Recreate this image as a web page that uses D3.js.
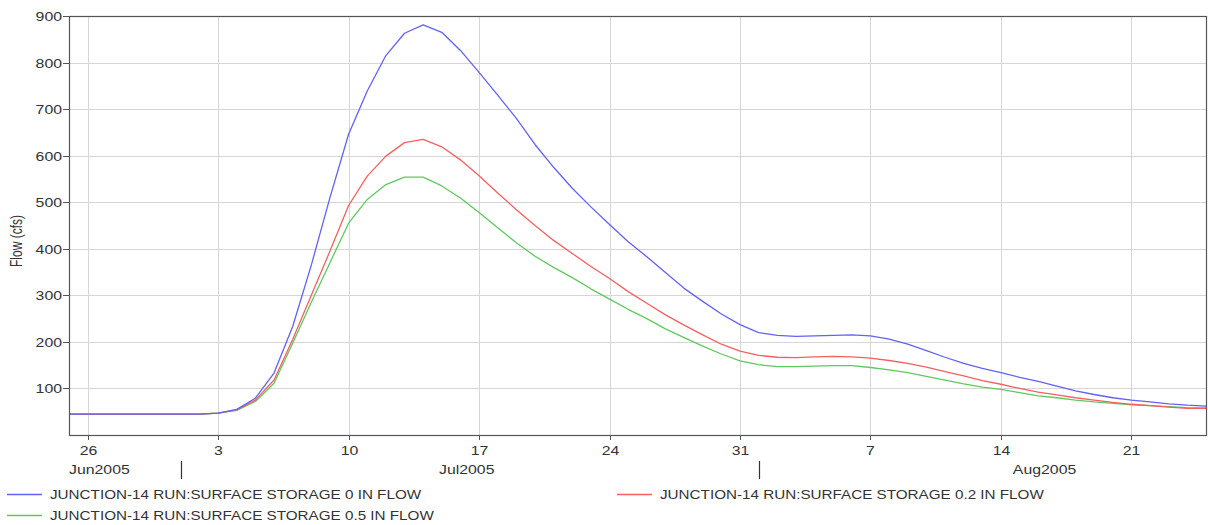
<!DOCTYPE html>
<html>
<head>
<meta charset="utf-8">
<script src="https://cdn.jsdelivr.net/npm/d3@7"></script>
<style>
  html, body { margin: 0; padding: 0; background: #fff; }
  svg { display: block; }
  text { font-family: "Liberation Sans", Arial, sans-serif; fill: #333; }
</style>
</head>
<body>
<svg id="chart" width="1208" height="525"></svg>
<script>
// Daily flow at JUNCTION-14, 25 Jun 2005 to 25 Aug 2005 (cfs)
const startDate = "2005-06-25";
const endDate = "2005-08-25";

const seriesNames = [
  "JUNCTION-14 RUN:SURFACE STORAGE 0 IN FLOW",
  "JUNCTION-14 RUN:SURFACE STORAGE 0.2 IN FLOW",
  "JUNCTION-14 RUN:SURFACE STORAGE 0.5 IN FLOW"
];
const seriesColors = ["#6262f4", "#f46060", "#60c860"];

const flowStorage0 = [
  45, 45, 45, 45, 45, 45, 45, 45,
  47, 55, 79, 133, 233, 365, 510, 646, 739, 815, 863, 881, 865, 826, 779, 730,
  680, 624, 575, 530, 490, 452, 415, 383, 349, 315, 287, 260, 237,
  220, 214, 212, 213, 214, 215, 213, 206, 195, 181, 167, 154, 143, 134, 124,
  115, 105, 95, 87, 80, 75, 71, 67, 64, 62
];
const flowStorage02 = [
  45, 45, 45, 45, 45, 45, 45, 45,
  47, 54, 75, 118, 205, 300, 395, 493, 556, 599, 628, 635, 619, 591, 557, 520,
  484, 450, 418, 390, 362, 336, 308, 283, 258, 236, 215, 195, 180,
  171, 167, 166, 168, 169, 168, 165, 160, 154, 146, 136, 127, 117, 109, 100,
  92, 86, 80, 75, 70, 66, 63, 60, 57, 57
];
const flowStorage05 = [
  45, 45, 45, 45, 45, 45, 45, 45,
  47, 53, 72, 111, 197, 285, 370, 455, 506, 538, 554, 554, 535, 509, 478, 445,
  413, 384, 360, 338, 314, 292, 270, 250, 228, 209, 191, 174, 159,
  151, 147, 147, 148, 149, 149, 145, 140, 134, 126, 118, 110, 103, 98, 91,
  84, 80, 75, 71, 68, 65, 63, 61, 59, 58
];

const yTickValues = [100, 200, 300, 400, 500, 600, 700, 800, 900];
const monthLabels = ["Jun2005", "Jul2005", "Aug2005"];
const yLabel = "Flow (cfs)";

// ---- layout ----
const W = 1208, H = 525;
const M = { left: 69, right: 1206, top: 16, bottom: 435 };
const SX = 1.32;                // horizontal text stretch for axis labels
const SX_LEGEND = 1.27;         // horizontal text stretch for legend entries
const FONT = 12;

const svg = d3.select("#chart");
svg.append("rect").attr("width", W).attr("height", H).attr("fill", "#fff");

const t0 = new Date(startDate + "T00:00:00Z");
const t1 = new Date(endDate + "T00:00:00Z");
const dates = d3.utcDay.range(t0, d3.utcDay.offset(t1, 1));

const x = d3.scaleUtc().domain([t0, t1]).range([M.left, M.right]);
const y = d3.scaleLinear().domain([0, 900]).range([M.bottom, M.top]);

const weekTicks = d3.utcSunday.range(t0, d3.utcDay.offset(t1, 1));

function stretchedText(g, px, py, str, anchor, sx) {
  return g.append("text")
    .attr("transform", `translate(${px},${py}) scale(${sx || SX},1)`)
    .attr("text-anchor", anchor || "start")
    .attr("font-size", FONT)
    .text(str);
}

// grid
const grid = svg.append("g").attr("stroke", "#d6d6d6").attr("stroke-width", 1);
grid.selectAll("line.h").data(yTickValues).join("line")
  .attr("x1", M.left).attr("x2", M.right)
  .attr("y1", d => Math.round(y(d)) + 0.5).attr("y2", d => Math.round(y(d)) + 0.5);
grid.selectAll("line.v").data(weekTicks).join("line")
  .attr("y1", M.top).attr("y2", M.bottom)
  .attr("x1", d => Math.round(x(d)) + 0.5).attr("x2", d => Math.round(x(d)) + 0.5);

// series lines
const series = [flowStorage0, flowStorage02, flowStorage05];
const line = d3.line()
  .x((d, i) => x(dates[i]))
  .y(d => y(d));
const plot = svg.append("g");
// draw the lower curves first so the highest curve sits on top
[2, 1, 0].forEach(k => {
  plot.append("path")
    .datum(series[k])
    .attr("fill", "none")
    .attr("stroke", seriesColors[k])
    .attr("stroke-width", 1.3)
    .attr("stroke-linejoin", "round")
    .attr("d", line);
});

// frame
svg.append("rect")
  .attr("x", M.left + 0.5).attr("y", M.top + 0.5)
  .attr("width", M.right - M.left).attr("height", M.bottom - M.top)
  .attr("fill", "none").attr("stroke", "#555").attr("stroke-width", 1.2);

// y axis
const yAxis = svg.append("g");
yTickValues.forEach(v => {
  const py = Math.round(y(v)) + 0.5;
  yAxis.append("line").attr("x1", M.left - 6).attr("x2", M.left)
    .attr("y1", py).attr("y2", py).attr("stroke", "#555");
  stretchedText(yAxis, M.left - 7, py + 4.3, String(v), "end");
});
svg.append("text")
  .attr("transform", `translate(22,241) rotate(-90) scale(1,${SX})`)
  .attr("text-anchor", "middle")
  .attr("font-size", FONT)
  .text(yLabel);

// x axis: weekly day ticks
const xAxis = svg.append("g");
weekTicks.forEach(d => {
  const px = Math.round(x(d)) + 0.5;
  xAxis.append("line").attr("x1", px).attr("x2", px)
    .attr("y1", M.bottom).attr("y2", M.bottom + 5).attr("stroke", "#555");
  stretchedText(xAxis, px, 455, d3.utcFormat("%-d")(d), "middle");
});

// month row
const months = d3.utcMonth.range(d3.utcMonth.floor(t0), d3.utcDay.offset(t1, 1));
months.forEach((m, i) => {
  const mid = new Date((m.getTime() + d3.utcMonth.offset(m, 1).getTime()) / 2);
  const pm = x(mid);
  if (pm < M.left) {
    stretchedText(xAxis, M.left, 474, monthLabels[i], "start");
  } else {
    stretchedText(xAxis, pm - 3, 474, monthLabels[i], "middle");
  }
  if (m > t0) {
    const px = Math.round(x(m)) + 0.5;
    xAxis.append("line").attr("x1", px).attr("x2", px)
      .attr("y1", 461).attr("y2", 479).attr("stroke", "#333").attr("stroke-width", 1.2);
  }
});

// legend
const legendPos = [[7, 494], [617, 494], [7, 515]];
const legend = svg.append("g");
seriesNames.forEach((name, k) => {
  const [lx, ly] = legendPos[k];
  legend.append("line")
    .attr("x1", lx).attr("x2", lx + 35)
    .attr("y1", ly + 0.5).attr("y2", ly + 0.5)
    .attr("stroke", seriesColors[k]).attr("stroke-width", 1.3);
  stretchedText(legend, lx + 43, ly + 4.5, name, "start", SX_LEGEND);
});
</script>
</body>
</html>
